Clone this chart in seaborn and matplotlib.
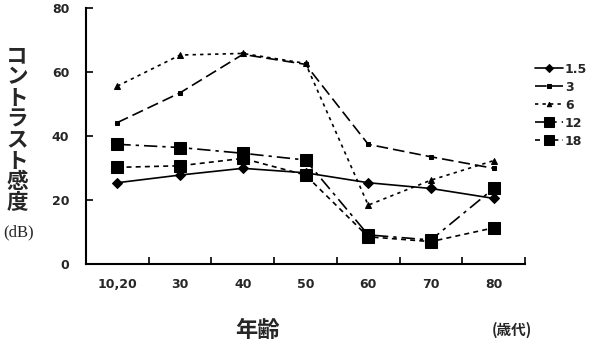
import pandas as pd
import seaborn as sns
import numpy as np
import matplotlib.pyplot as plt

# Contrast sensitivity by age group, one line per spatial frequency
ages = ['10,20', '30', '40', '50', '60', '70', '80']
freqs = ['1.5', '3', '6', '12', '18']
cs_1_5 = [25.4, 27.8, 29.9, 28.5, 25.4, 23.6, 20.5]
cs_3 = [44.2, 53.5, 65.5, 62.4, 37.4, 33.5, 29.9]
cs_6 = [55.6, 65.3, 65.8, 62.7, 18.4, 26.2, 32.3]
cs_12 = [37.4, 36.4, 34.6, 32.5, 9.1, 7.5, 23.6]
cs_18 = [30.2, 30.7, 33.0, 27.8, 8.5, 7.0, 11.3]

df = pd.DataFrame({
    'age': ages * 5,
    'freq': np.repeat(freqs, len(ages)),
    'cs': cs_1_5 + cs_3 + cs_6 + cs_12 + cs_18,
})

sns.set_theme(style='white')
plt.rcParams['font.family'] = ['DejaVu Sans']

fig = plt.figure(figsize=(6, 3.53), dpi=100)
ax = fig.add_axes([86/600, 89/353, 439/600, 256/353])

styles = {
    '1.5': dict(marker='D', markersize=5, dashes=None),
    '3': dict(marker='s', markersize=3.5, dashes=(7, 3)),
    '6': dict(marker='^', markersize=4, dashes=(2, 2.5)),
    '12': dict(marker='s', markersize=9, dashes=(8, 3, 2, 3)),
    '18': dict(marker='s', markersize=9, dashes=(3, 2.5)),
}

for f in freqs:
    sub = df[df['freq'] == f]
    st = styles[f]
    sns.lineplot(data=sub, x='age', y='cs', ax=ax, color='black',
                 marker=st['marker'], markersize=st['markersize'],
                 linewidth=1.2, label=f, sort=False)
    l = ax.lines[-1]
    if st['dashes'] is not None:
        l.set_dashes(st['dashes'])
    l.set_markeredgecolor('black')
    l.set_markerfacecolor('black')

ax.set_xlim(-0.5, 6.5)
ax.set_ylim(0, 80)
ax.set_yticks([0, 20, 40, 60, 80])
ax.set_xticks(range(7))
ax.set_xticks(np.arange(0.5, 7, 1), minor=True)
ax.tick_params(axis='x', which='major', length=0, pad=10, labelsize=9)
ax.tick_params(axis='x', which='minor', direction='in', length=5, width=1.2,
               bottom=True, color='black')
ax.tick_params(axis='y', direction='in', length=5, width=1.2, left=True,
               color='black', pad=12, labelsize=9)
for lab in ax.get_xticklabels() + ax.get_yticklabels():
    lab.set_fontweight('bold')
ax.set_xlabel('')
ax.set_ylabel('')

for s in ['top', 'right']:
    ax.spines[s].set_visible(False)
for s in ['left', 'bottom']:
    ax.spines[s].set_color('black')
    ax.spines[s].set_linewidth(1.5)

leg = ax.legend(loc='center left', bbox_to_anchor=(1.0, 0.62), frameon=False,
                handlelength=2.2, handletextpad=0.2, labelspacing=0.4,
                borderaxespad=0.4, prop={'size': 9, 'weight': 'bold'})
for h in leg.get_lines():
    h.set_markersize(h.get_markersize() * 0.8)

jp = ['Noto Sans CJK JP', 'DejaVu Sans']
title_chars = 'コントラスト感度'
for i, ch in enumerate(title_chars):
    fig.text(17/600, 1 - (56 + i * 21)/353, ch, family=jp, fontsize=15.5,
             fontweight='bold', ha='center', va='center')
fig.text(19/600, 1 - 232/353, '(dB)', family='Liberation Serif', fontsize=12,
         ha='center', va='center')

fig.text(257/600, 1 - 330/353, '年齢', family=jp, fontsize=16,
         fontweight='bold', ha='center', va='center')
fig.text(512/600, 1 - 330/353, '(歳代)', family=jp, fontsize=10.5,
         fontweight='bold', ha='center', va='center')

fig.savefig('out.png', dpi=100, facecolor='white')
